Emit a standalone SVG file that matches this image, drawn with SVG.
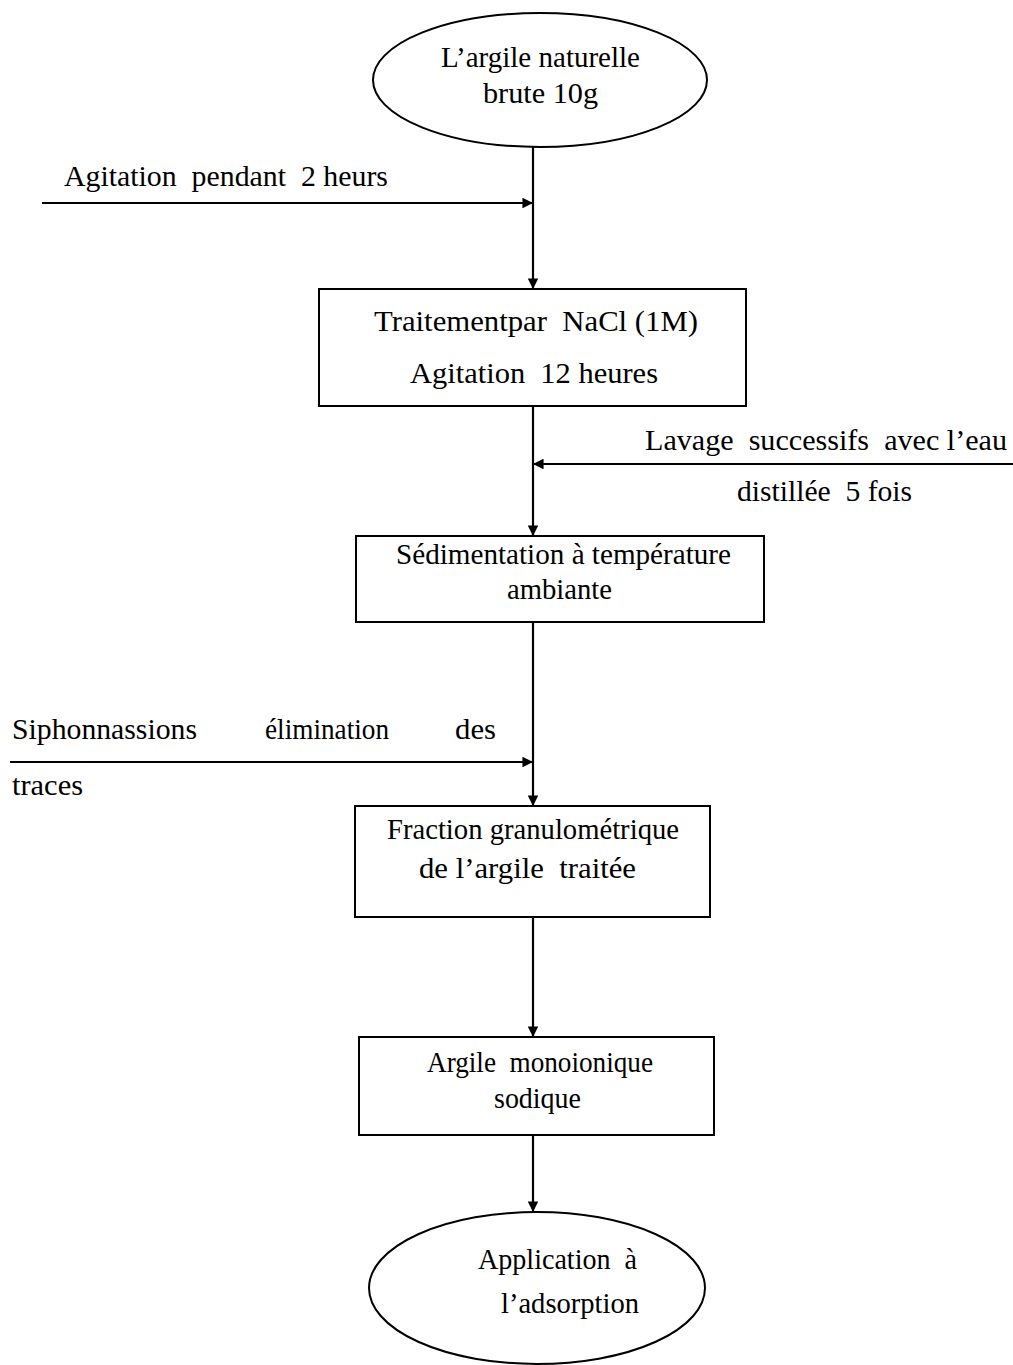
<svg xmlns="http://www.w3.org/2000/svg" width="1013" height="1365" viewBox="0 0 1013 1365">
<style>
.n{fill:#fff;stroke:#000;stroke-width:2}
.c{fill:none;stroke:#000;stroke-width:2.2}
text{font-family:"Liberation Serif","Times New Roman",serif;font-size:30px;fill:#000}
</style>
<defs>
<marker id="ah" viewBox="0 0 10 10" refX="10" refY="5" markerWidth="4.8" markerHeight="4.8" orient="auto" markerUnits="strokeWidth">
<path d="M0,0 L10,5 L0,10 z" fill="#000"/>
</marker>
</defs>
<rect width="1013" height="1365" fill="#fff"/>
<g id="connectors">
<line class="c" x1="533" y1="147" x2="533" y2="289" marker-end="url(#ah)"/>
<line class="c" x1="42" y1="203" x2="533" y2="203" marker-end="url(#ah)"/>
<line class="c" x1="533" y1="406" x2="533" y2="536" marker-end="url(#ah)"/>
<line class="c" x1="1013" y1="464" x2="533" y2="464" marker-end="url(#ah)"/>
<line class="c" x1="533" y1="622" x2="533" y2="806" marker-end="url(#ah)"/>
<line class="c" x1="10" y1="762" x2="533" y2="762" marker-end="url(#ah)"/>
<line class="c" x1="533" y1="917" x2="533" y2="1037" marker-end="url(#ah)"/>
<line class="c" x1="533" y1="1135" x2="533" y2="1212" marker-end="url(#ah)"/>
</g>
<g id="n1">
<ellipse class="n" cx="540" cy="80" rx="167" ry="67"/>
<text x="441" y="67" textLength="199" lengthAdjust="spacingAndGlyphs">L’argile naturelle</text>
<text x="483" y="103" textLength="115" lengthAdjust="spacingAndGlyphs">brute 10g</text>
</g>
<g id="lbl1">
<text x="64" y="186" textLength="324" lengthAdjust="spacingAndGlyphs" xml:space="preserve">Agitation  pendant  2 heurs</text>
</g>
<g id="n2">
<rect class="n" x="319" y="289" width="427" height="117"/>
<text x="374" y="331" textLength="324" lengthAdjust="spacingAndGlyphs" xml:space="preserve">Traitementpar  NaCl (1M)</text>
<text x="410" y="383" textLength="248" lengthAdjust="spacingAndGlyphs" xml:space="preserve">Agitation  12 heures</text>
</g>
<g id="lbl2">
<text x="645" y="450" textLength="362" lengthAdjust="spacingAndGlyphs" xml:space="preserve">Lavage  successifs  avec l’eau</text>
<text x="737" y="501" textLength="175" lengthAdjust="spacingAndGlyphs" xml:space="preserve">distillée  5 fois</text>
</g>
<g id="n3">
<rect class="n" x="356" y="536" width="408" height="86"/>
<text x="396" y="564" textLength="335" lengthAdjust="spacingAndGlyphs">Sédimentation à température</text>
<text x="507" y="599" textLength="105" lengthAdjust="spacingAndGlyphs">ambiante</text>
</g>
<g id="lbl3">
<text x="12" y="739" textLength="185" lengthAdjust="spacingAndGlyphs">Siphonnassions</text>
<text x="265" y="739" textLength="124" lengthAdjust="spacingAndGlyphs">élimination</text>
<text x="455" y="739" textLength="41" lengthAdjust="spacingAndGlyphs">des</text>
<text x="12" y="795" textLength="71" lengthAdjust="spacingAndGlyphs">traces</text>
</g>
<g id="n4">
<rect class="n" x="355" y="806" width="355" height="111"/>
<text x="387" y="839" textLength="292" lengthAdjust="spacingAndGlyphs">Fraction granulométrique</text>
<text x="419" y="878" textLength="217" lengthAdjust="spacingAndGlyphs" xml:space="preserve">de l’argile  traitée</text>
</g>
<g id="n5">
<rect class="n" x="359" y="1037" width="355" height="98"/>
<text x="427" y="1072" textLength="226" lengthAdjust="spacingAndGlyphs" xml:space="preserve">Argile  monoionique</text>
<text x="494" y="1108" textLength="87" lengthAdjust="spacingAndGlyphs">sodique</text>
</g>
<g id="n6">
<ellipse class="n" cx="537" cy="1288" rx="168" ry="76"/>
<text x="478" y="1269" textLength="159" lengthAdjust="spacingAndGlyphs" xml:space="preserve">Application  à</text>
<text x="501" y="1313" textLength="138" lengthAdjust="spacingAndGlyphs">l’adsorption</text>
</g>
</svg>
